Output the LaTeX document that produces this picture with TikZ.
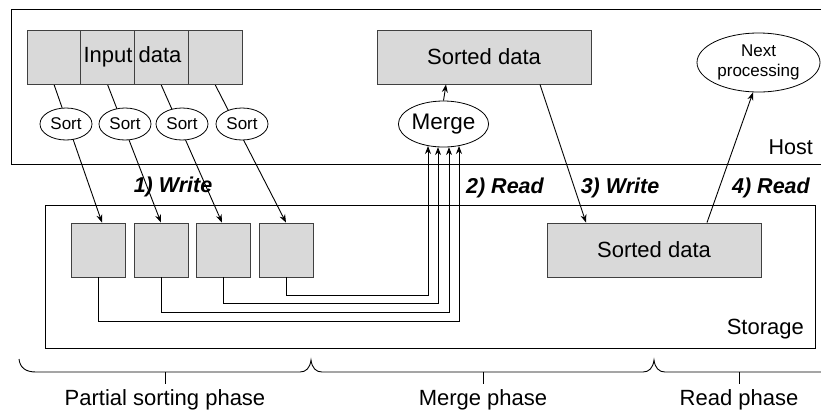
\documentclass[tikz,border=0pt]{standalone}
\usepackage{fontspec}
\setmainfont{Liberation Sans}
\usetikzlibrary{arrows.meta,shapes.geometric,calc}
\pgfdeclarelayer{background}
\pgfsetlayers{background,main}

\begin{document}
\begin{tikzpicture}[x=1pt,y=-1pt,
  wire/.style={line width=0.9pt, draw=black},
  arr/.style={wire, -{Stealth[length=8pt,width=6pt]}},
  frame/.style={line width=0.9pt, draw=black},
  block/.style={rectangle, draw=black!75, line width=0.9pt, fill=black!15,
    inner sep=0pt, minimum width=54pt, minimum height=54pt},
  wideblock/.style={block, minimum width=214pt,
    font=\fontsize{22}{26}\selectfont},
  oval/.style={ellipse, draw=black, line width=0.8pt, fill=white, inner sep=0pt},
  sortop/.style={oval, minimum width=52pt, minimum height=32pt,
    font=\fontsize{17}{20}\selectfont},
  txt/.style={font=\fontsize{22}{26}\selectfont, inner sep=0pt},
  steplabel/.style={font=\fontsize{21.5}{25}\selectfont\bfseries\itshape, inner sep=0pt},
]
\clip (0,0) rectangle (821,416);

% host and storage frames
\draw[frame] (11,9) rectangle (840,164);
\draw[frame] (45,205) rectangle (815,348);
\node[txt, font=\fontsize{21.5}{25}\selectfont, anchor=east] (hostlabel) at (813,147) {Host};
\node[txt, anchor=east] (storagelabel) at (804,329) {Storage};

% input data split into four chunks
\node[block] (in1) at (54,57) {};
\node[block] (in2) at (107.5,57) {};
\node[block] (in3) at (161,57) {};
\node[block] (in4) at (215,57) {};
\node[txt] (inlabel) at (132.5,57) {Input data};

% per-chunk sort
\node[sortop] (s1) at (66,124) {Sort};
\node[sortop] (s2) at (125,124) {Sort};
\node[sortop] (s3) at (182,124) {Sort};
\node[sortop] (s4) at (242,124) {Sort};

% sorted runs in storage
\node[block] (r1) at (98.5,250) {};
\node[block] (r2) at (161,250) {};
\node[block] (r3) at (223.5,250) {};
\node[block] (r4) at (286,250) {};

% merge and results
\node[oval, minimum width=89pt, minimum height=46pt,
  font=\fontsize{22.5}{26}\selectfont] (merge) at (443.5,124) {Merge};
\node[wideblock] (sdhost) at (484,57) {Sorted data};
\node[wideblock] (sdstore) at (654,250) {Sorted data};
\node[oval, minimum width=123pt, minimum height=59pt, align=center,
  font=\fontsize{17}{20}\selectfont] (next) at (758.5,62.5) {Next\\processing};

% 1) write: chunk -> sort -> run (drawn beneath the sort ovals)
\begin{pgfonlayer}{background}
\draw[arr] (in1.south) -- ($(r1.north)+(3.5,0)$);
\draw[arr] (in2.south) -- (r2.north);
\draw[arr] (in3.south) -- ($(r3.north)+(-1.5,0)$);
\draw[arr] (in4.south) -- (r4.north);
\end{pgfonlayer}

% 2) read: runs -> merge
\draw[arr] (r1.south) -- ++(0,44) -| ($(merge.south)+(15.5,-1.4)$);
\draw[arr] (r2.south) -- ++(0,35) -| ($(merge.south)+(5.5,-0.3)$);
\draw[arr] (r3.south) -- ++(0,26) -| ($(merge.south)+(-5.5,-0.3)$);
\draw[arr] (r4.south) -- ++(0,18) -| ($(merge.south)+(-15.5,-1.4)$);
\draw[arr] (merge.north) -- ($(sdhost.south)+(-38,0)$);

% 3) write and 4) read
\draw[arr] ($(sdhost.south)+(56,0)$) -- ($(sdstore.north)+(-68,0)$);
\draw[arr] ($(sdstore.north)+(53,0)$) -- ($(next.south)+(-5.5,0)$);

% step labels
\node[steplabel] (w1) at (173,187) {1) Write};
\node[steplabel] (r2lbl) at (505,188) {2) Read};
\node[steplabel] (w3) at (620,188) {3) Write};
\node[steplabel] (r4lbl) at (771,188) {4) Read};

% phase braces
\draw[wire] (19,359) .. controls (20,368) and (26,372) .. (36,372) -- (300,372)
  .. controls (306,372) and (310,368) .. (311,360)
  .. controls (312,368) and (316,372) .. (322,372) -- (643,372)
  .. controls (649,372) and (653,368) .. (654,360)
  .. controls (655,368) and (659,372) .. (665,372) -- (840,372);
\coordinate (t1) at (165,372);
\coordinate (t2) at (483,372);
\coordinate (t3) at (739,372);
\draw[wire] (t1) -- ++(0,12);
\draw[wire] (t2) -- ++(0,12);
\draw[wire] (t3) -- ++(0,12);
\node[txt] (p1) at (165,400) {Partial sorting phase};
\node[txt] (p2) at (483,400) {Merge phase};
\node[txt] (p3) at (739,400) {Read phase};
\end{tikzpicture}
\end{document}
